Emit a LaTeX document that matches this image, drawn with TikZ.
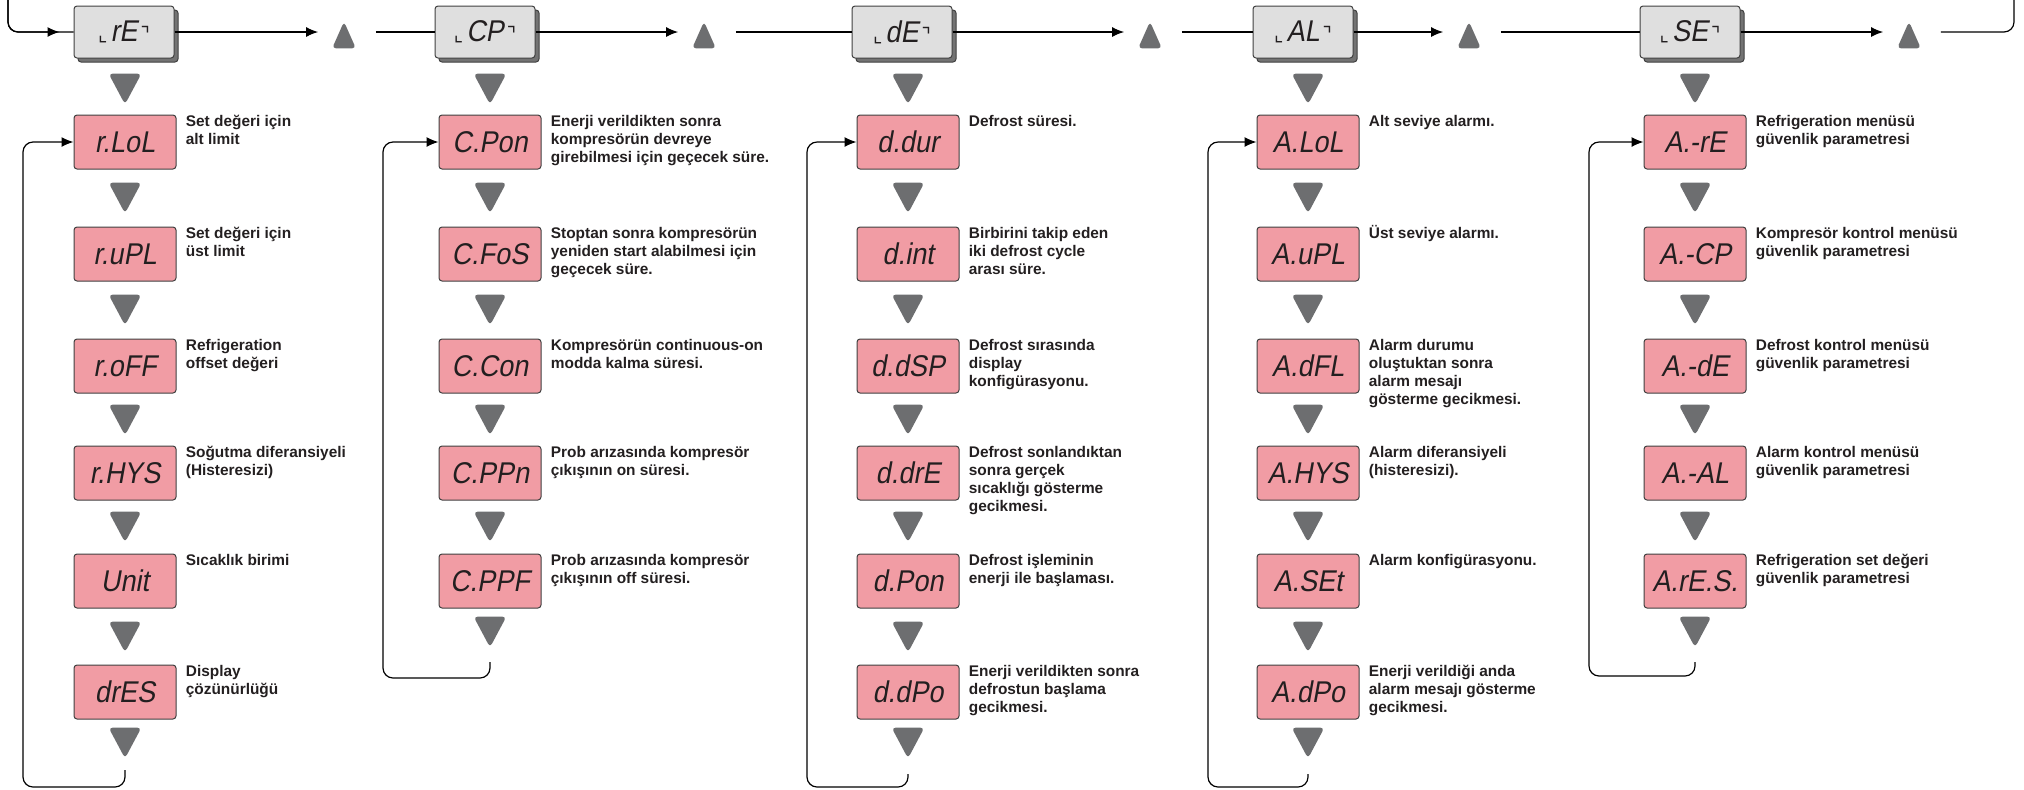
\documentclass[tikz,border=0pt]{standalone}
\usepackage{fontspec}
\setmainfont{Liberation Sans}
\newfontfamily\segfont[FakeSlant=0.18,FakeStretch=0.9]{Liberation Sans}
\newfontfamily\cornerfont{DejaVu Sans}
\usetikzlibrary{arrows.meta}

\definecolor{lcd pink}{RGB}{241,156,164}
\definecolor{lcd text}{RGB}{35,31,32}
\definecolor{key gray}{RGB}{109,110,112}
\colorlet{box edge}{black!75}
\colorlet{header face}{gray!25}
\colorlet{header side}{black!55}
\tikzset{
  display/.style={draw=box edge, fill=lcd pink, rounded corners=1.5pt, line width=0.5pt,
    minimum width=51pt, minimum height=27pt, inner sep=0pt, text=lcd text,
    font=\segfont\fontsize{15}{15}\selectfont},
  header/.style={display, fill=header face, minimum width=50pt, minimum height=26pt,
    preaction={draw=box edge, fill=header side, transform canvas={shift={(2pt,-2pt)}}}},
  info/.style={anchor=base west, inner sep=0pt, text=lcd text,
    font=\bfseries\fontsize{7.7}{9}\selectfont},
  keyslot/.style={inner sep=0pt, minimum width=16pt, minimum height=15pt},
  upslot/.style={inner sep=0pt, minimum width=11.5pt, minimum height=13pt}
  }
\tikzstyle{flow} = [draw, line width=0.6pt, rounded corners=5pt]
\tikzstyle{tip} = [-{Latex[length=6pt,width=5pt]}]
\tikzstyle{key} = [fill=key gray, rounded corners=2pt]

\newcommand{\menuname}[1]{{\cornerfont\fontsize{10}{10}\selectfont ⌞}\kern1.5pt#1\kern1.5pt{\cornerfont\fontsize{10}{10}\selectfont ⌝}}
\newcommand{\infolines}[1]{\begin{tabular}[t]{@{}l@{}}#1\end{tabular}}
\newcommand{\downkey}[2]{%
  \node[keyslot] (#2) at #1 {};
  \fill[key] (#2.north west) -- (#2.north east) -- (#2.south) -- cycle;}
\newcommand{\upkey}[2]{%
  \node[upslot] (#2) at #1 {};
  \fill[key] (#2.south west) -- (#2.south east) -- (#2.north) -- cycle;}

\begin{document}
\begin{tikzpicture}[x=0.5pt,y=-0.5pt]
    \useasboundingbox (0,0) rectangle (2024,789);

    % The menu headers and the up keys
    \foreach \pos/\name/\code in {{(124,32)/hrE/rE}, {(485,32)/hCP/CP}, {(902,32)/hdE/dE}, {(1303,32)/hAL/AL}, {(1690,32)/hSE/SE}} {
      \node[header] (\name) at \pos {\menuname{\code}};
    }
    \foreach \pos/\name in {{(344,35)/k1}, {(704,35)/k2}, {(1150,35)/k3}, {(1469,35)/k4}, {(1909,35)/k5}} {
      \upkey{\pos}{\name}
    }

    % Refrigeration menu
    \foreach \y/\name/\code/\info in {
        142/rLoL/{r.LoL}/{Set değeri için\\alt limit},
        254/ruPL/{r.uPL}/{Set değeri için\\üst limit},
        366/roFF/{r.oFF}/{Refrigeration\\offset değeri},
        473/rHYS/{r.HYS}/{Soğutma diferansiyeli\\(Histeresizi)},
        581/Unit/{Unit}/{Sıcaklık birimi},
        692/drES/{drES}/{Display\\çözünürlüğü}} {
      \node[display] (\name) at (125,\y) {\code};
      \node[info] (\name-info) at ([xshift=4.5pt,yshift=-6pt]\name.north east) {\infolines{\info}};
    }
    \foreach \y [count=\i] in {89,198,310,420,527,637,743} {
      \downkey{(125,\y)}{rk\i}
    }

    % Compressor menu
    \foreach \y/\name/\code/\info in {
        142/CPon/{C.Pon}/{Enerji verildikten sonra\\kompresörün devreye\\girebilmesi için geçecek süre.},
        254/CFoS/{C.FoS}/{Stoptan sonra kompresörün\\yeniden start alabilmesi için\\geçecek süre.},
        366/CCon/{C.Con}/{Kompresörün continuous-on\\modda kalma süresi.},
        473/CPPn/{C.PPn}/{Prob arızasında kompresör\\çıkışının on süresi.},
        581/CPPF/{C.PPF}/{Prob arızasında kompresör\\çıkışının off süresi.}} {
      \node[display] (\name) at (490,\y) {\code};
      \node[info] (\name-info) at ([xshift=4.5pt,yshift=-6pt]\name.north east) {\infolines{\info}};
    }
    \foreach \y [count=\i] in {89,198,310,420,527,632} {
      \downkey{(490,\y)}{ck\i}
    }

    % Defrost menu
    \foreach \y/\name/\code/\info in {
        142/ddur/{d.dur}/{Defrost süresi.},
        254/dint/{d.int}/{Birbirini takip eden\\iki defrost cycle\\arası süre.},
        366/ddSP/{d.dSP}/{Defrost sırasında\\display\\konfigürasyonu.},
        473/ddrE/{d.drE}/{Defrost sonlandıktan\\sonra gerçek\\sıcaklığı gösterme\\gecikmesi.},
        581/dPon/{d.Pon}/{Defrost işleminin\\enerji ile başlaması.},
        692/ddPo/{d.dPo}/{Enerji verildikten sonra\\defrostun başlama\\gecikmesi.}} {
      \node[display] (\name) at (908,\y) {\code};
      \node[info] (\name-info) at ([xshift=4.5pt,yshift=-6pt]\name.north east) {\infolines{\info}};
    }
    \foreach \y [count=\i] in {89,198,310,420,527,637,743} {
      \downkey{(908,\y)}{dk\i}
    }

    % Alarm menu
    \foreach \y/\name/\code/\info in {
        142/ALoL/{A.LoL}/{Alt seviye alarmı.},
        254/AuPL/{A.uPL}/{Üst seviye alarmı.},
        366/AdFL/{A.dFL}/{Alarm durumu\\oluştuktan sonra\\alarm mesajı\\gösterme gecikmesi.},
        473/AHYS/{A.HYS}/{Alarm diferansiyeli\\(histeresizi).},
        581/ASEt/{A.SEt}/{Alarm konfigürasyonu.},
        692/AdPo/{A.dPo}/{Enerji verildiği anda\\alarm mesajı gösterme\\gecikmesi.}} {
      \node[display] (\name) at (1308,\y) {\code};
      \node[info] (\name-info) at ([xshift=4.5pt,yshift=-6pt]\name.north east) {\infolines{\info}};
    }
    \foreach \y [count=\i] in {89,198,310,420,527,637,743} {
      \downkey{(1308,\y)}{ak\i}
    }

    % Security menu
    \foreach \y/\name/\code/\info in {
        142/SrE/{A.-rE}/{Refrigeration menüsü\\güvenlik parametresi},
        254/SCP/{A.-CP}/{Kompresör kontrol menüsü\\güvenlik parametresi},
        366/SdE/{A.-dE}/{Defrost kontrol menüsü\\güvenlik parametresi},
        473/SAL/{A.-AL}/{Alarm kontrol menüsü\\güvenlik parametresi},
        581/SrES/{A.rE.S.}/{Refrigeration set değeri\\güvenlik parametresi}} {
      \node[display] (\name) at (1695,\y) {\code};
      \node[info] (\name-info) at ([xshift=4.5pt,yshift=-6pt]\name.north east) {\infolines{\info}};
    }
    \foreach \y [count=\i] in {89,198,310,420,527,632} {
      \downkey{(1695,\y)}{sk\i}
    }

    % The connections along the top
    \coordinate (in) at (8,0);
    \coordinate (out) at (2014,0);
    \path[flow] (in) |- (hrE.west);
    \path[flow, tip, shorten >=7pt] (in) |- (hrE.west);
    \foreach \hdr/\key/\next in {hrE/k1/hCP, hCP/k2/hdE, hdE/k3/hAL, hAL/k4/hSE} {
      \path[flow, tip, shorten >=7pt] (\hdr.east) -- (\hdr.east -| \key.west);
      \path[flow, shorten <=10pt] (\next.west -| \key.east) -- (\next.west);
    }
    \path[flow, tip, shorten >=7pt] (hSE.east) -- (hSE.east -| k5.west);
    \path[flow, shorten <=10pt] (hSE.east -| k5.east) -| (out);

    % The way back to the first parameter
    \foreach \start/\corner/\first in {{(125,770)/(23,787)/rLoL}, {(490,662)/(383,678)/CPon}, {(908,774)/(807,787)/ddur}, {(1308,774)/(1208,787)/ALoL}, {(1695,662)/(1589,676)/SrE}} {
      \path[flow, tip] \start |- \corner |- (\first.west);
    }
\end{tikzpicture}
\end{document}
